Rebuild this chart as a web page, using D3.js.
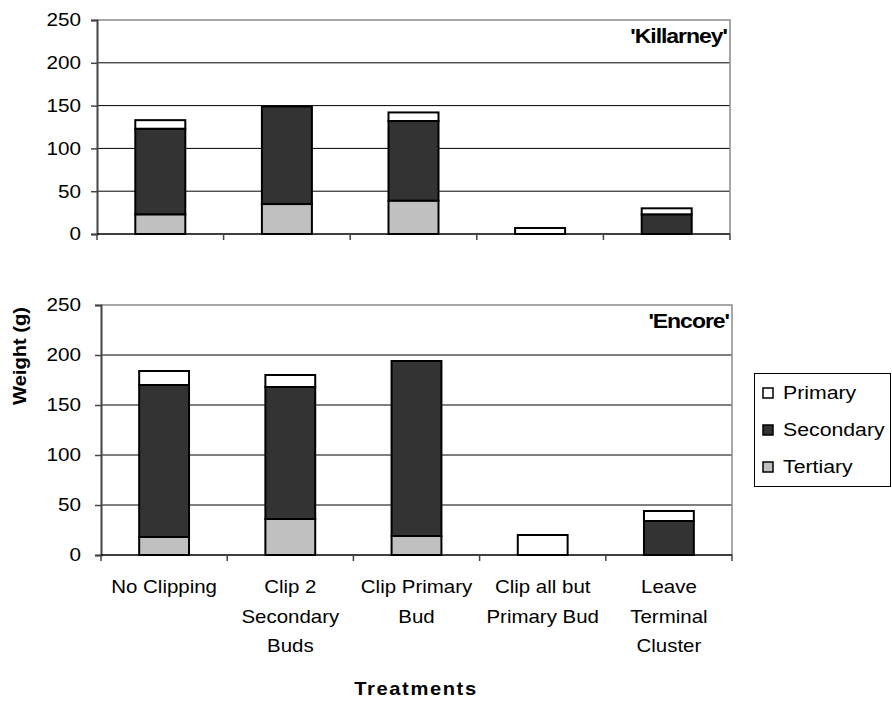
<!DOCTYPE html>
<html><head><meta charset="utf-8">
<script src="https://cdn.jsdelivr.net/npm/d3@7"></script>
<style>body{margin:0;background:#fff}svg{font-family:"Liberation Sans",Arial,sans-serif}</style>
</head><body>
<svg id="c" width="892" height="702"></svg>
<script>
const categories = ["No Clipping","Clip 2 Secondary Buds","Clip Primary Bud","Clip all but Primary Bud","Leave Terminal Cluster"];
const categoryLines = [["No Clipping"],["Clip 2","Secondary","Buds"],["Clip Primary","Bud"],["Clip all but","Primary Bud"],["Leave","Terminal","Cluster"]];
const seriesNames = ["Tertiary","Secondary","Primary"];
const legendOrder = ["Primary","Secondary","Tertiary"];
const killarneyTertiary  = [23, 35, 39, 0, 0];
const killarneySecondary = [100, 114, 93, 0, 23];
const killarneyPrimary   = [10, 0, 10, 7, 7];
const encoreTertiary  = [18, 36, 19, 0, 0];
const encoreSecondary = [152, 132, 175, 0, 34];
const encorePrimary   = [14, 12, 0, 20, 10];
const yTicks = [0, 50, 100, 150, 200, 250];
const colors = {Primary:"#ffffff", Secondary:"#333333", Tertiary:"#c0c0c0"};
const SX = 1.15;

const svg = d3.select("#c");

function stext(parent, x, y, str, opts){
  opts = opts || {};
  const rot = opts.rotate ? ` rotate(${opts.rotate})` : "";
  const t = parent.append("text")
    .attr("transform",`translate(${x},${y})${rot} scale(${SX},1)`)
    .attr("text-anchor",opts.anchor||"start")
    .attr("font-size",opts.size||18)
    .attr("fill","#000");
  if(opts.weight) t.attr("font-weight",opts.weight);
  if(opts.ls) t.attr("letter-spacing",opts.ls);
  if(opts.dy) t.attr("dy",opts.dy);
  t.text(str);
  return t;
}

function panel(cfg){
  const {x0,x1,y0,y1,tert,sec,prim,label,labelY} = cfg;
  const g = svg.append("g");
  const x = d3.scaleBand().domain(categories).range([x0,x1]).paddingInner(0.605).paddingOuter(0.3025);
  const xc = d3.scaleBand().domain(categories).range([x0,x1]).padding(0);
  const y = d3.scaleLinear().domain([0,250]).range([y1,y0]);
  const rows = categories.map((c,i)=>({cat:c,Tertiary:tert[i],Secondary:sec[i],Primary:prim[i]}));
  g.selectAll("line.grid").data(yTicks.filter(t=>t>0 && t<250)).join("line")
    .attr("x1",x0).attr("x2",x1).attr("y1",d=>y(d)).attr("y2",d=>y(d))
    .attr("stroke","#000").attr("stroke-width",1);
  g.append("path").attr("d",`M${x0},${y0}H${x1}V${y1}`).attr("fill","none").attr("stroke","#8a8a8a").attr("stroke-width",1.5);
  const stack = d3.stack().keys(seriesNames)(rows);
  stack.forEach(s=>{
    g.selectAll(null).data(s.filter(d=>d[1]-d[0]>0)).join("rect")
      .attr("x",d=>x(d.data.cat)).attr("width",x.bandwidth())
      .attr("y",d=>y(d[1])).attr("height",d=>y(d[0])-y(d[1]))
      .attr("fill",colors[s.key]).attr("stroke","#000").attr("stroke-width",2);
  });
  const ya = d3.axisLeft(y).tickValues(yTicks).tickSize(6).tickFormat("");
  const yg = g.append("g").attr("transform",`translate(${x0},0)`).call(ya);
  yg.select(".domain").attr("stroke","#444").attr("stroke-width",2);
  yg.selectAll(".tick line").attr("stroke","#444").attr("stroke-width",1.5);
  yTicks.forEach(t=>stext(g, 81, y(t), String(t), {anchor:"end", size:18, dy:"0.35em"}));
  g.append("line").attr("x1",x0).attr("x2",x1).attr("y1",y1).attr("y2",y1).attr("stroke","#000").attr("stroke-width",1.5);
  const bounds = categories.map(c=>xc(c)).concat([x1]);
  g.selectAll("line.xt").data(bounds).join("line")
    .attr("x1",d=>d).attr("x2",d=>d).attr("y1",y1).attr("y2",y1+6).attr("stroke","#444").attr("stroke-width",1.5);
  stext(g, x1-3, labelY, label, {anchor:"end", size:20, weight:"bold", ls:-0.9});
  return {x:xc,y};
}

panel({x0:97,x1:730,y0:20,y1:234,tert:killarneyTertiary,sec:killarneySecondary,prim:killarneyPrimary,label:"'Killarney'",labelY:43});
const p2 = panel({x0:101,x1:732,y0:305,y1:555,tert:encoreTertiary,sec:encoreSecondary,prim:encorePrimary,label:"'Encore'",labelY:328});

const lab = svg.append("g");
categories.forEach((c,i)=>{
  const cx = p2.x(c)+p2.x.bandwidth()/2;
  categoryLines[i].forEach((ln,j)=>{
    stext(lab, cx, 593+j*29.5, ln, {anchor:"middle", size:17.8});
  });
});

stext(svg, 416, 695, "Treatments", {anchor:"middle", size:17.5, weight:"bold", ls:1.4});
stext(svg, 26, 356, "Weight (g)", {anchor:"middle", size:17.5, weight:"bold", rotate:-90});

const lg = svg.append("g");
lg.append("rect").attr("x",754.5).attr("y",373.5).attr("width",136).attr("height",113)
  .attr("fill","#fff").attr("stroke","#000").attr("stroke-width",1);
legendOrder.forEach((k,i)=>{
  const base = 398.5 + i*37;
  lg.append("rect").attr("x",763).attr("y",base-10.5).attr("width",10).attr("height",10)
    .attr("fill",colors[k]).attr("stroke","#000").attr("stroke-width",1.5);
  stext(lg, 783, base, k, {size:18.5});
});
</script>
</body></html>
